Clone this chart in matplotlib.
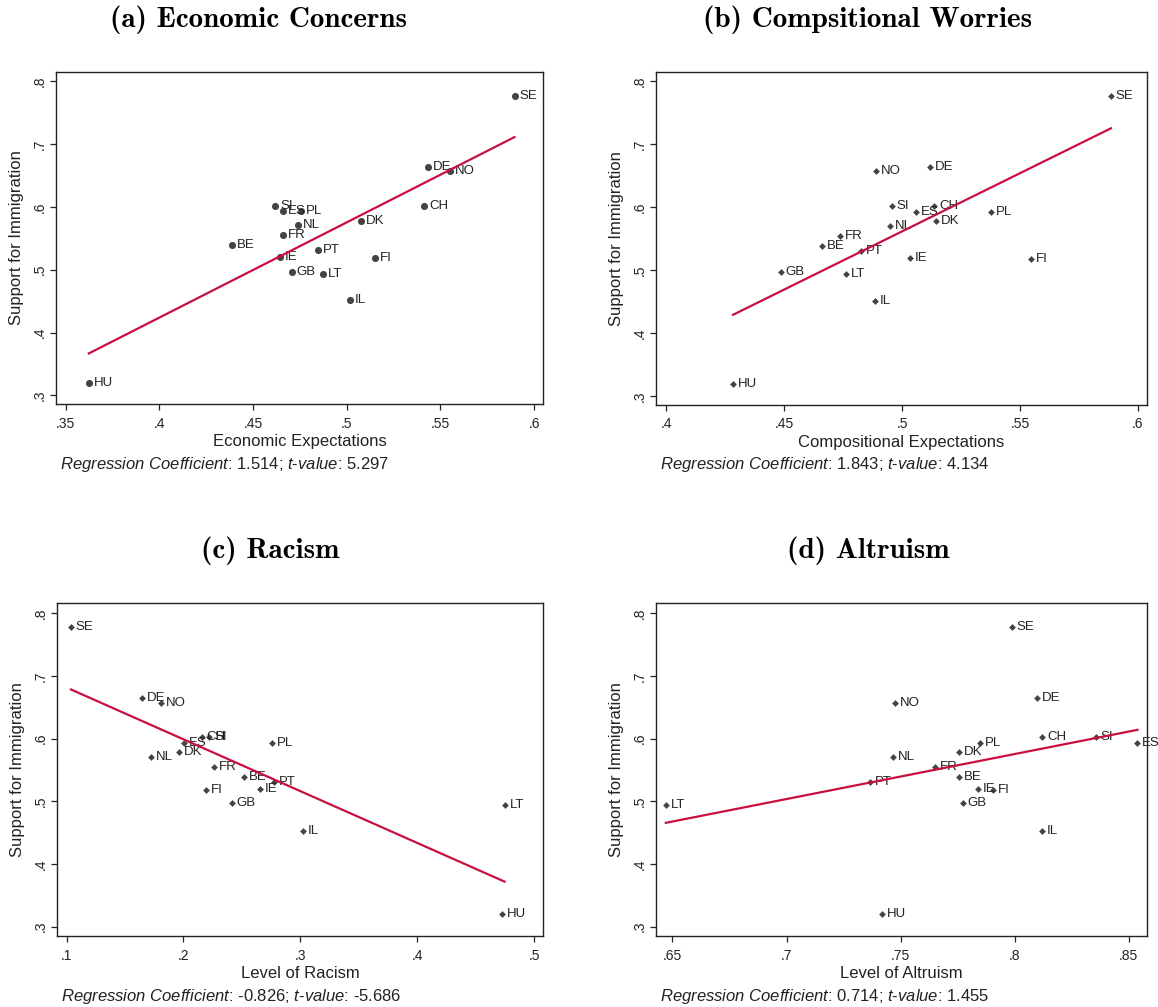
import numpy as np
import matplotlib
matplotlib.use('Agg')
import matplotlib.pyplot as plt
from matplotlib.ticker import FuncFormatter

plt.rcParams['font.family'] = ['Liberation Sans', 'DejaVu Sans']
plt.rcParams['mathtext.fontset'] = 'custom'
plt.rcParams['mathtext.rm'] = 'Liberation Sans'
plt.rcParams['mathtext.it'] = 'Liberation Sans:italic'

# Datos
countries = ['SE', 'DE', 'NO', 'SI', 'CH', 'ES', 'PL', 'NL', 'DK',
             'FR', 'BE', 'PT', 'IE', 'FI', 'GB', 'LT', 'IL', 'HU']
support = [0.777, 0.664, 0.657, 0.602, 0.602, 0.593, 0.593, 0.571, 0.578,
           0.555, 0.539, 0.531, 0.520, 0.518, 0.497, 0.494, 0.452, 0.320]

econ = [0.5895, 0.5433, 0.5552, 0.4618, 0.5413, 0.4661, 0.4754, 0.4740, 0.5078,
        0.4661, 0.4387, 0.4845, 0.4643, 0.5153, 0.4707, 0.4874, 0.5015, 0.3624]
comp = [0.5886, 0.5118, 0.4889, 0.4957, 0.5137, 0.5059, 0.5378, 0.4947, 0.5144,
        0.4736, 0.4660, 0.4826, 0.5032, 0.5545, 0.4485, 0.4761, 0.4884, 0.4283]
racism = [0.1038, 0.1649, 0.1810, 0.2222, 0.2158, 0.2006, 0.2760, 0.1725, 0.1965,
          0.2263, 0.2516, 0.2772, 0.2655, 0.2196, 0.2415, 0.4747, 0.3022, 0.4722]
altruism = [0.7988, 0.8099, 0.7474, 0.8356, 0.8120, 0.8538, 0.7847, 0.7466, 0.7754,
            0.7650, 0.7758, 0.7368, 0.7839, 0.7903, 0.7772, 0.6471, 0.8120, 0.7417]

titles = ['(a) Economic Concerns', '(b) Compsitional Worries', '(c) Racism', '(d) Altruism']
xlabels = ['Economic Expectations', 'Compositional Expectations',
           'Level of Racism', 'Level of Altruism']
coefs = ['1.514', '1.843', '-0.826', '0.714']
tvalues = ['5.297', '4.134', '-5.686', '1.455']
xticks_list = [[0.35, 0.4, 0.45, 0.5, 0.55, 0.6],
               [0.4, 0.45, 0.5, 0.55, 0.6],
               [0.1, 0.2, 0.3, 0.4, 0.5],
               [0.65, 0.7, 0.75, 0.8, 0.85]]
yticks = [0.3, 0.4, 0.5, 0.6, 0.7, 0.8]

W, H = 1158, 1007
fig = plt.figure(figsize=(W / 100, H / 100), dpi=100)
fig.patch.set_facecolor('white')

# caja de cada panel en pixeles: izq, arriba, der, abajo
boxes = [(56, 72, 543, 404), (656, 72, 1147, 405),
         (57, 603, 543, 936), (656, 603, 1147, 936)]
xlims = [(0.3449, 0.6047), (0.3956, 0.6039), (0.0918, 0.5076), (0.6428, 0.858)]
ylims = [(0.2862, 0.8149), (0.2862, 0.8149), (0.2852, 0.816), (0.2852, 0.816)]
title_pos = [(258, 20), (868, 20), (270, 551), (868, 551)]
markers = ['o', 'D', 'D', 'D']
msizes = [26, 12, 12, 12]

fmt = FuncFormatter(lambda v, p: ('%g' % v).lstrip('0'))
line_color = '#c8103e'
dot_color = '#444444'

for i, xs in enumerate([econ, comp, racism, altruism]):
    l, t, r, b = boxes[i]
    ax = fig.add_axes([l / W, 1 - b / H, (r - l) / W, (b - t) / H])
    x = np.array(xs)
    y = np.array(support)

    ax.scatter(x, y, marker=markers[i], s=msizes[i], color=dot_color,
               linewidths=0, zorder=3)
    for c, xv, yv in zip(countries, x, y):
        ax.annotate(c, (xv, yv), xytext=(3.5, 0), textcoords='offset points',
                    va='center', ha='left', fontsize=9.5, color='#222222',
                    zorder=4, annotation_clip=False)

    # recta de regresion
    slope, inter = np.polyfit(x, y, 1)
    xf = np.array([x.min(), x.max()])
    ax.plot(xf, inter + slope * xf, color=line_color, lw=1.6, zorder=5)

    ax.set_xlim(*xlims[i])
    ax.set_ylim(*ylims[i])
    ax.set_xticks(xticks_list[i])
    ax.set_yticks(yticks)
    ax.xaxis.set_major_formatter(fmt)
    ax.yaxis.set_major_formatter(fmt)
    ax.tick_params(direction='out', length=4, width=0.9, labelsize=10,
                   colors='#222222')
    ax.tick_params(axis='x', pad=5)
    ax.tick_params(axis='y', pad=3)
    for lab in ax.get_yticklabels():
        lab.set_rotation(90)
        lab.set_va('center')
    for sp in ax.spines.values():
        sp.set_linewidth(1.0)
        sp.set_color('#222222')

    cx = (l + r) / 2
    cy = (t + b) / 2
    fig.text(cx / W, 1 - (b + 37.5) / H, xlabels[i], ha='center', va='center',
             fontsize=12, color='#222222')
    fig.text((l - 39) / W, 1 - cy / H, 'Support for Immigration', ha='center',
             va='center', rotation=90, fontsize=12, color='#222222')
    reg = (r'$\mathit{Regression\ Coefficient}$: ' + coefs[i] +
           r'; $\mathit{t}$-$\mathit{value}$: ' + tvalues[i])
    fig.text((l + 4) / W, 1 - (b + 60) / H, reg, ha='left', va='center',
             fontsize=12, color='#222222')

    tx, ty = title_pos[i]
    fig.text(tx / W, 1 - ty / H, titles[i], ha='center', va='center',
             fontsize=21, family='cmb10', color='black')

fig.savefig('out.png', dpi=100, facecolor='white')
